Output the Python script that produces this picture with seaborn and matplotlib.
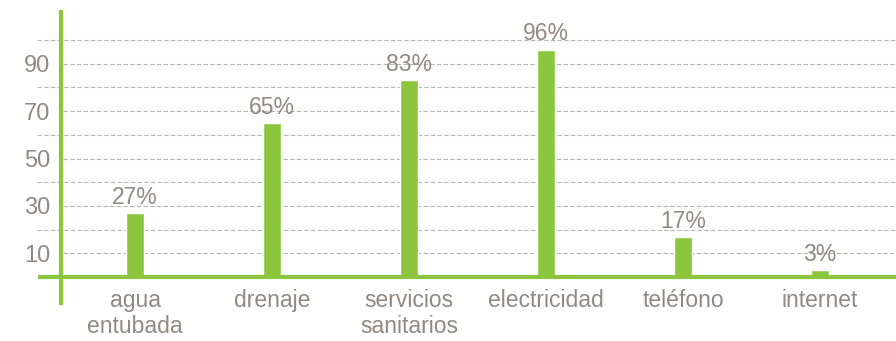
import matplotlib
matplotlib.use("Agg")
import matplotlib.pyplot as plt
import seaborn as sns
import pandas as pd

servicios = ["agua\nentubada", "drenaje", "servicios\nsanitarios", "electricidad", "teléfono", "internet"]
porcentajes = [27, 65, 83, 96, 17, 3]
ticks_principales = [10, 30, 50, 70, 90]
ticks_secundarios = [20, 40, 60, 80, 100]

VERDE = "#8cc63f"
GRIS = "#908984"
GRID = "#b5b5b5"

sns.set_theme(style="white")
plt.rcParams["font.family"] = ["Liberation Sans", "DejaVu Sans"]

df = pd.DataFrame({"servicio": servicios, "pct": porcentajes})

fig = plt.figure(figsize=(8.96, 3.41), dpi=100)
ax = fig.add_axes([0.0, 0.1877, 1.0, 0.783])

sns.barplot(data=df, x="servicio", y="pct", color=VERDE, saturation=1,
            width=0.135, ax=ax, zorder=3)

px = 137.0  # pixels per category step
x0 = 135.0  # pixel centre of first bar
def xd(p):
    return (p - x0) / px

ax.set_xlim(xd(0), xd(896))
ax.set_ylim(0, 112.7)

for s in ax.spines.values():
    s.set_visible(False)

# dashed grid
ax.hlines(ticks_secundarios, xd(37), xd(896), colors=GRID, linestyles=(0, (4, 2)),
          linewidth=0.8, zorder=1)
ax.hlines(ticks_principales, xd(63), xd(896), colors=GRID, linestyles=(0, (4, 2)),
          linewidth=0.8, zorder=1)

# green axes
ax.hlines(0, xd(38), xd(896), colors=VERDE, linewidth=3, zorder=4, clip_on=False)
ax.vlines(xd(61), -11.8, 112.7, colors=VERDE, linewidth=3, zorder=4, clip_on=False)

ax.set_yticks(ticks_principales)
ax.set_yticklabels([str(t) for t in ticks_principales])
ax.tick_params(axis="y", length=0, pad=-36, labelsize=17, labelcolor=GRIS)
ax.tick_params(axis="x", length=0, pad=9, labelsize=16.5, labelcolor=GRIS)
for lbl in ax.get_xticklabels():
    lbl.set_linespacing(1.15)

ax.set_xlabel("")
ax.set_ylabel("")

for c in ax.containers:
    ax.bar_label(c, labels=[f"{v}%" for v in porcentajes], padding=3,
                 fontsize=16.5, color=GRIS)

fig.savefig("out.png", dpi=100)
